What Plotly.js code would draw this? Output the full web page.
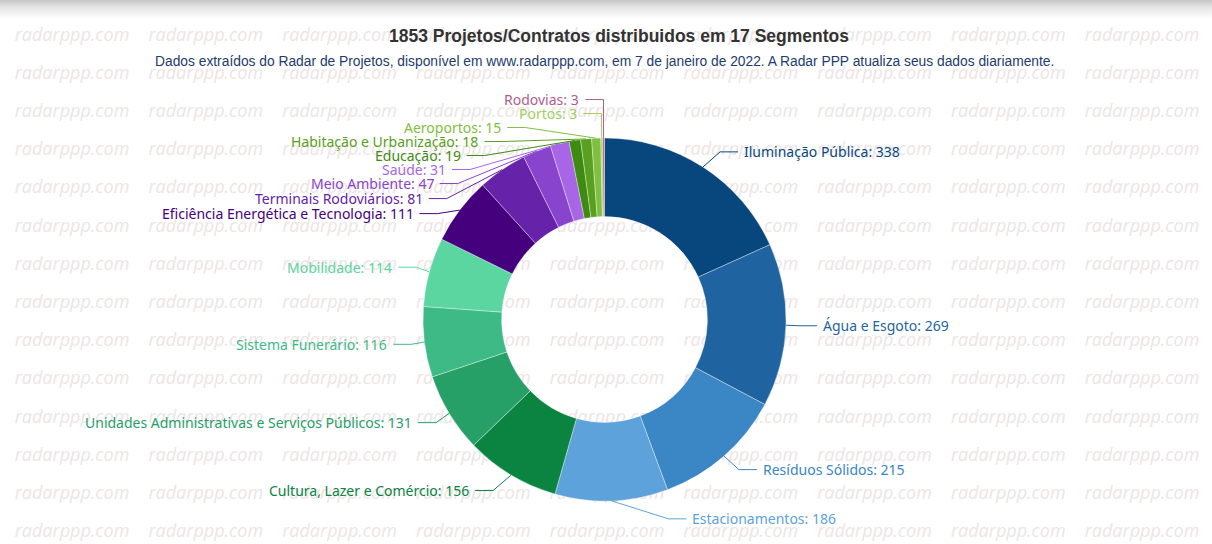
<!DOCTYPE html>
<html><head><meta charset="utf-8">
<script src="https://cdn.plot.ly/plotly-3.0.1.min.js"></script>
<style>
html,body{margin:0;padding:0;}
body{background:linear-gradient(to bottom,#c4c4c4 0px,#e4e4e4 7px,#ffffff 19px);}
#chart{width:1212px;height:544px;}
</style></head><body><div id="chart"></div>
<script>
// ---- data ----
const segments = ["Iluminação Pública","Água e Esgoto","Resíduos Sólidos","Estacionamentos",
  "Cultura, Lazer e Comércio","Unidades Administrativas e Serviços Públicos","Sistema Funerário",
  "Mobilidade","Eficiência Energética e Tecnologia","Terminais Rodoviários","Meio Ambiente",
  "Saúde","Educação","Habitação e Urbanização","Aeroportos","Portos","Rodovias"];
const counts = [338,269,215,186,156,131,116,114,111,81,47,31,19,18,15,3,3];
const sliceColors = ["#08477e","#1f64a0","#3b86c4","#5ea2dc","#0b8442","#27a068","#3dba86",
  "#5cd6a0","#45007e","#6622a8","#8844cc","#a666e6","#3f8a10","#5aa020","#80c040","#a0d060","#b0608a"];
const titleText = "1853 Projetos/Contratos distribuidos em 17 Segmentos";
const subtitleText = "Dados extraídos do Radar de Projetos, disponível em www.radarppp.com, em 7 de janeiro de 2022. A Radar PPP atualiza seus dados diariamente.";
const watermarkText = "radarppp.com";

// ---- geometry / style ----
const W = 1212, H = 544;
const CX = 604.5, CY = 319.5, R = 181.5, HOLE = 0.567;
const LEN1 = 18, LEN2 = 18, LABEL_DIST = 5, LABEL_H = 14;

const total = counts.reduce((a, b) => a + b, 0);
let cum = 0;
const items = counts.map((v, i) => {
  const a0 = cum / total * 2 * Math.PI; cum += v;
  const a1 = cum / total * 2 * Math.PI;
  const mid = (a0 + a1) / 2;
  const sx = Math.sin(mid), sy = -Math.cos(mid);
  const dir = sx < 0 ? -1 : 1;
  const x2 = CX + (R + LEN1) * sx, y2 = CY + (R + LEN1) * sy;
  return { i, dir, ex: CX + R * sx, ey: CY + R * sy, y: y2,
           x: x2 + dir * (LEN2 + LABEL_DIST), len: LEN1, len2: LEN2, height: LABEL_H };
});

function adjustSingleSide(list, cx, cy, r, dir, viewHeight, viewTop) {
  list.sort((a, b) => a.y - b.y);
  function shiftUp(end, delta) {
    for (let j = end; j >= 0; j--) {
      if (list[j].y - delta < viewTop) break;
      list[j].y -= delta;
      if (j > 0 && list[j].y > list[j - 1].y + list[j - 1].height) break;
    }
  }
  function shiftDown(start, end, delta) {
    for (let j = start; j < end; j++) {
      if (list[j].y + delta > viewTop + viewHeight) break;
      list[j].y += delta;
      if (j > start && j + 1 < end && list[j + 1].y > list[j].y + list[j].height) {
        shiftUp(j, delta / 2); return;
      }
    }
    shiftUp(end - 1, delta / 2);
  }
  function changeX(sub, isDown) {
    let last = isDown ? Number.MAX_VALUE : 0;
    for (const it of sub) {
      const dy = Math.abs(it.y - cy);
      let dx = dy < r + it.len ? Math.sqrt(Math.pow(r + it.len + it.len2, 2) - dy * dy) : Math.abs(it.x - cx);
      if (isDown && dx >= last) dx = last - 10;
      if (!isDown && dx <= last) dx = last + 10;
      it.x = cx + dx * dir;
      last = dx;
    }
  }
  let lastY = 0;
  for (let i = 0; i < list.length; i++) {
    const delta = list[i].y - lastY;
    if (delta < 0) shiftDown(i, list.length, -delta);
    lastY = list[i].y + list[i].height;
  }
  if (viewHeight - lastY < 0) shiftUp(list.length - 1, lastY - viewHeight);
  const up = [], down = [];
  list.forEach(it => (it.y >= cy ? down : up).push(it));
  changeX(up, false); changeX(down, true);
}
adjustSingleSide(items.filter(it => it.dir > 0), CX, CY, R, 1, H, 0);
adjustSingleSide(items.filter(it => it.dir < 0), CX, CY, R, -1, H, 0);

const shapes = [], annotations = [];
items.forEach(it => {
  const lineEnd = it.x - it.dir * LABEL_DIST;
  const elbow = lineEnd - it.dir * it.len2;
  const col = sliceColors[it.i];
  shapes.push({ type: 'path', xref: 'x', yref: 'y', layer: 'above',
    path: `M ${it.ex} ${it.ey} L ${elbow} ${it.y} L ${lineEnd} ${it.y}`,
    line: { color: col, width: 1 } });
  annotations.push({ xref: 'x', yref: 'y', x: it.x, y: it.y, showarrow: false,
    xanchor: it.dir > 0 ? 'left' : 'right', yanchor: 'middle', borderpad: 0,
    text: segments[it.i] + ': ' + counts[it.i],
    font: { family: 'Noto Sans, Open Sans, sans-serif', size: 14, color: col } });
});
annotations.push({ xref: 'x', yref: 'y', x: 619, y: 36, showarrow: false, yanchor: 'middle',
  text: titleText, font: { family: 'Liberation Sans, Arial, sans-serif', size: 17.5, color: '#333', weight: 'bold' } });
annotations.push({ xref: 'x', yref: 'y', x: CX, y: 61, showarrow: false, yanchor: 'middle',
  text: subtitleText, font: { family: 'Liberation Sans, Arial, sans-serif', size: 13.8, color: '#1e3c6e' } });

// watermark grid
const wmX = [], wmY = [], wmT = [];
for (let r = 0; r < 14; r++) for (let c = 0; c < 9; c++) {
  wmX.push(72 + 133.75 * c); wmY.push(36 + 38.2 * r); wmT.push(watermarkText);
}

const traces = [
  { type: 'scatter', mode: 'text', x: wmX, y: wmY, text: wmT, hoverinfo: 'skip',
    textposition: 'middle center', showlegend: false,
    textfont: { family: 'Open Sans, sans-serif', style: 'italic', size: 18, color: '#ece5e5' } },
  { type: 'pie', values: counts, labels: segments, sort: false, direction: 'clockwise', rotation: 0,
    hole: HOLE, textinfo: 'none', showlegend: false,
    marker: { colors: sliceColors, line: { color: 'rgba(255,255,255,0.6)', width: 0.6 } },
    domain: { x: [(CX - R) / W, (CX + R) / W], y: [1 - (CY + R) / H, 1 - (CY - R) / H] } }
];
const layout = {
  width: W, height: H, margin: { l: 0, r: 0, t: 0, b: 0 },
  paper_bgcolor: 'rgba(0,0,0,0)', plot_bgcolor: 'rgba(0,0,0,0)', showlegend: false,
  xaxis: { range: [0, W], visible: false, fixedrange: true },
  yaxis: { range: [H, 0], visible: false, fixedrange: true },
  shapes, annotations
};
Plotly.newPlot('chart', traces, layout, { displayModeBar: false, staticPlot: true });
</script></body></html>
